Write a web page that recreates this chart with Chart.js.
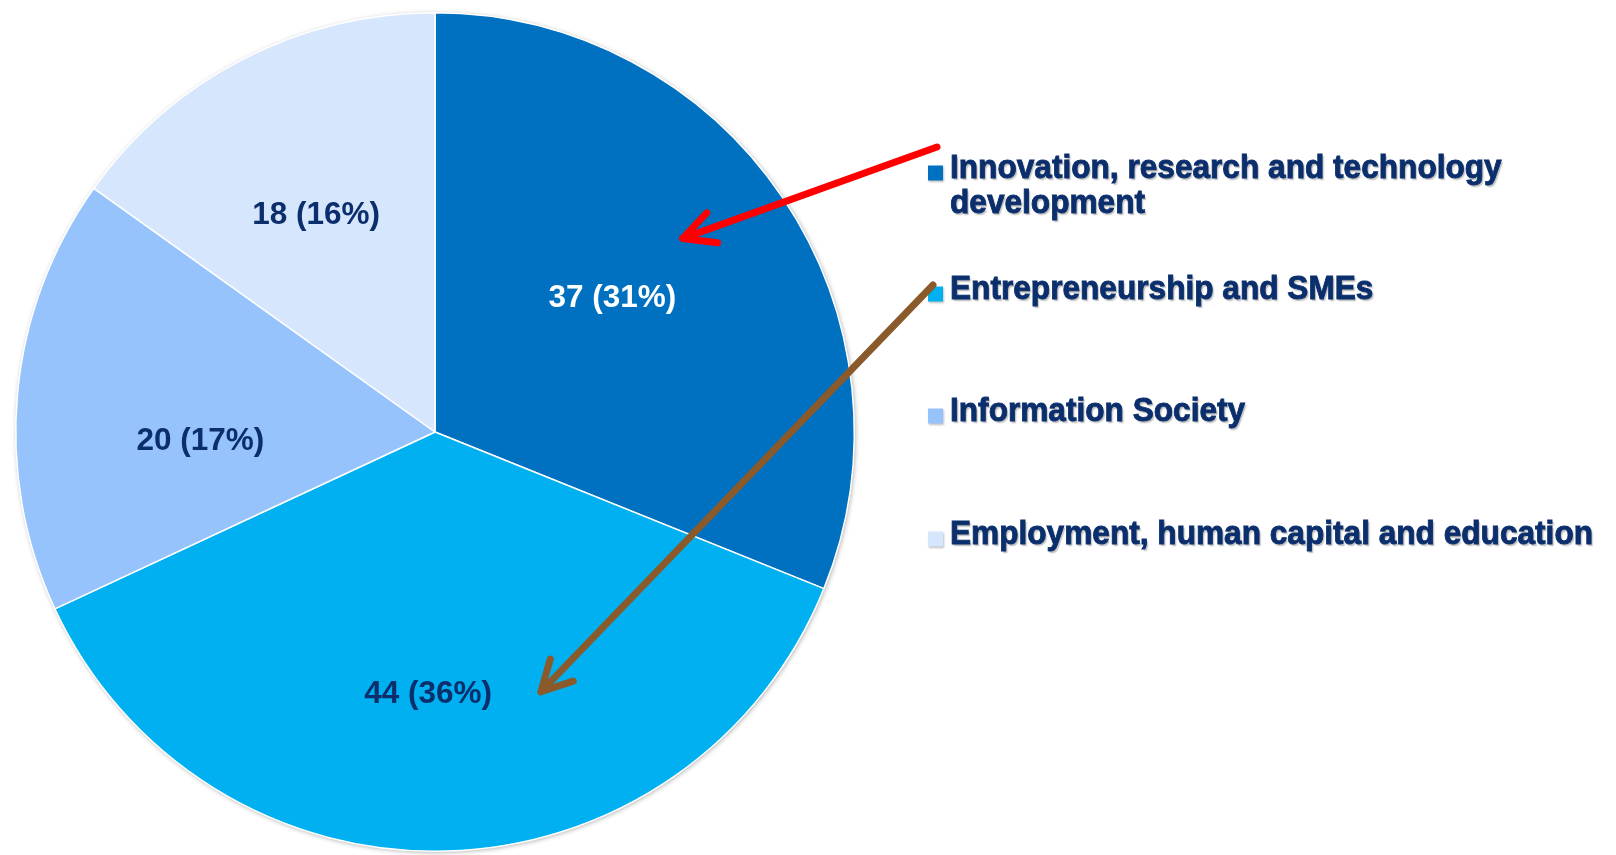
<!DOCTYPE html>
<html>
<head>
<meta charset="utf-8">
<script src="https://cdn.jsdelivr.net/npm/chart.js@4/dist/chart.umd.min.js"></script>
<style>
    html, body { margin: 0; padding: 0; background: #fff; }
    #wrap { width: 1616px; height: 855px; position: relative; }
</style>
</head>
<body>
<div id="wrap"><canvas id="projectsPie" width="1616" height="855"></canvas></div>
<script>
// projects per priority pie

const categories = [
    'Innovation, research and technology development',
    'Entrepreneurship and SMEs',
    'Information Society',
    'Employment, human capital and education'
];
const legendLines = [
    ['Innovation, research and technology', 'development'],
    ['Entrepreneurship and SMEs'],
    ['Information Society'],
    ['Employment, human capital and education']
];
const projectCounts = [37, 44, 20, 18];
const shareLabels = ['31%', '36%', '17%', '16%'];
const sliceColors = ['#0070C0', '#00B0F0', '#97C3FD', '#D5E6FD'];
const labelColors = ['#FFFFFF', '#0B2E6C', '#0B2E6C', '#0B2E6C'];

const navy = '#0B2E6C';

const pieDecor = {
    id: 'pieDecor',
    beforeDatasetsDraw(chart) {
        // soft shadow round the pie
        const arc = chart.getDatasetMeta(0).data[0];
        const ctx = chart.ctx;
        ctx.save();
        ctx.shadowColor = 'rgba(0,0,0,0.35)';
        ctx.shadowBlur = 5;
        ctx.shadowOffsetX = 1;
        ctx.shadowOffsetY = 1;
        ctx.beginPath();
        ctx.arc(arc.x, arc.y, arc.outerRadius, 0, Math.PI * 2);
        ctx.fillStyle = '#fff';
        ctx.fill();
        ctx.restore();
    },
    afterDatasetsDraw(chart, args, opts) {
        const ctx = chart.ctx;
        const meta = chart.getDatasetMeta(0);
        ctx.save();
        ctx.font = 'bold 31.5px "Liberation Sans", Arial, sans-serif';
        ctx.textAlign = 'center';
        ctx.textBaseline = 'middle';
        meta.data.forEach((a, i) => {
            const place = opts.labelPlace[i];
            const mid = (a.startAngle + a.endAngle) / 2 + place[1] * Math.PI / 180;
            const r = a.outerRadius * place[0];
            ctx.fillStyle = labelColors[i];
            ctx.fillText(projectCounts[i] + ' (' + shareLabels[i] + ')', a.x + Math.cos(mid) * r, a.y + Math.sin(mid) * r);
        });
        ctx.restore();
    },
    afterDraw(chart, args, opts) {
        const ctx = chart.ctx;
        const lg = opts.legend;

        // legend
        for (let i = 0; i < legendLines.length; i++) {
            const baselines = lg.baselines[i];
            const my = baselines[0] - lg.markerLift - lg.markerSize / 2;
            ctx.save();
            ctx.shadowColor = 'rgba(0,0,0,0.25)';
            ctx.shadowBlur = 2;
            ctx.shadowOffsetX = 1;
            ctx.shadowOffsetY = 1;
            ctx.fillStyle = sliceColors[i];
            ctx.fillRect(lg.markerX, my, lg.markerSize, lg.markerSize);
            ctx.restore();

            for (let j = 0; j < legendLines[i].length; j++) {
                ctx.save();
                ctx.shadowColor = 'rgba(0,0,0,0.28)';
                ctx.shadowBlur = 1.5;
                ctx.shadowOffsetX = 1.5;
                ctx.shadowOffsetY = 1.5;
                ctx.font = 'bold 34px "Liberation Sans", Arial, sans-serif';
                ctx.fillStyle = navy;
                ctx.strokeStyle = navy;
                ctx.lineWidth = 0.9;
                ctx.textBaseline = 'alphabetic';
                ctx.translate(lg.textX, baselines[j]);
                ctx.scale(0.93, 1);
                ctx.fillText(legendLines[i][j], 0, 0);
                ctx.shadowColor = 'transparent';
                ctx.strokeText(legendLines[i][j], 0, 0);
                ctx.restore();
            }
        }

        // arrows from legend into slices
        const arc0 = chart.getDatasetMeta(0).data[0];
        opts.arrows.forEach(ar => {
            const ang = (ar.tipAngle - 90) * Math.PI / 180;
            const tx = arc0.x + Math.cos(ang) * arc0.outerRadius * ar.tipRadius;
            const ty = arc0.y + Math.sin(ang) * arc0.outerRadius * ar.tipRadius;
            const back = Math.atan2(ar.from[1] - ty, ar.from[0] - tx);
            const spread = ar.headAngle * Math.PI / 180;
            ctx.save();
            ctx.strokeStyle = ar.color;
            ctx.lineWidth = 7;
            ctx.lineCap = 'round';
            ctx.lineJoin = 'round';
            ctx.beginPath();
            ctx.moveTo(ar.from[0], ar.from[1]);
            ctx.lineTo(tx, ty);
            ctx.stroke();
            ctx.beginPath();
            ctx.moveTo(tx + Math.cos(back - spread) * ar.headLen, ty + Math.sin(back - spread) * ar.headLen);
            ctx.lineTo(tx, ty);
            ctx.lineTo(tx + Math.cos(back + spread) * ar.headLen, ty + Math.sin(back + spread) * ar.headLen);
            ctx.stroke();
            ctx.restore();
        });
    }
};

const ctx = document.getElementById('projectsPie');

new Chart(ctx, {
    type: 'pie',
    data: {
        labels: categories,
        datasets: [{
            data: projectCounts,
            backgroundColor: sliceColors,
            borderColor: '#FFFFFF',
            borderWidth: 1.5
        }]
    },
    options: {
        responsive: false,
        animation: false,
        layout: {
            padding: { left: 15, top: 12, right: 761, bottom: 3 }
        },
        plugins: {
            legend: { display: false },
            tooltip: { enabled: false },
            pieDecor: {
                labelPlace: [[0.53, -3], [0.625, 3], [0.56, -7.5], [0.59, -1.5]],
                legend: {
                    markerX: 928,
                    markerSize: 15,
                    markerLift: 5,
                    textX: 950,
                    baselines: [[178, 213], [299], [421], [544]]
                },
                arrows: [
                    { color: '#FF0000', from: [937, 147], tipAngle: 52, tipRadius: 0.75, headLen: 35, headAngle: 27 },
                    { color: '#8B5A2B', from: [933, 285], tipAngle: 157.8, tipRadius: 0.669, headLen: 34, headAngle: 28 }
                ]
            }
        }
    },
    plugins: [pieDecor]
});
</script>
</body>
</html>
